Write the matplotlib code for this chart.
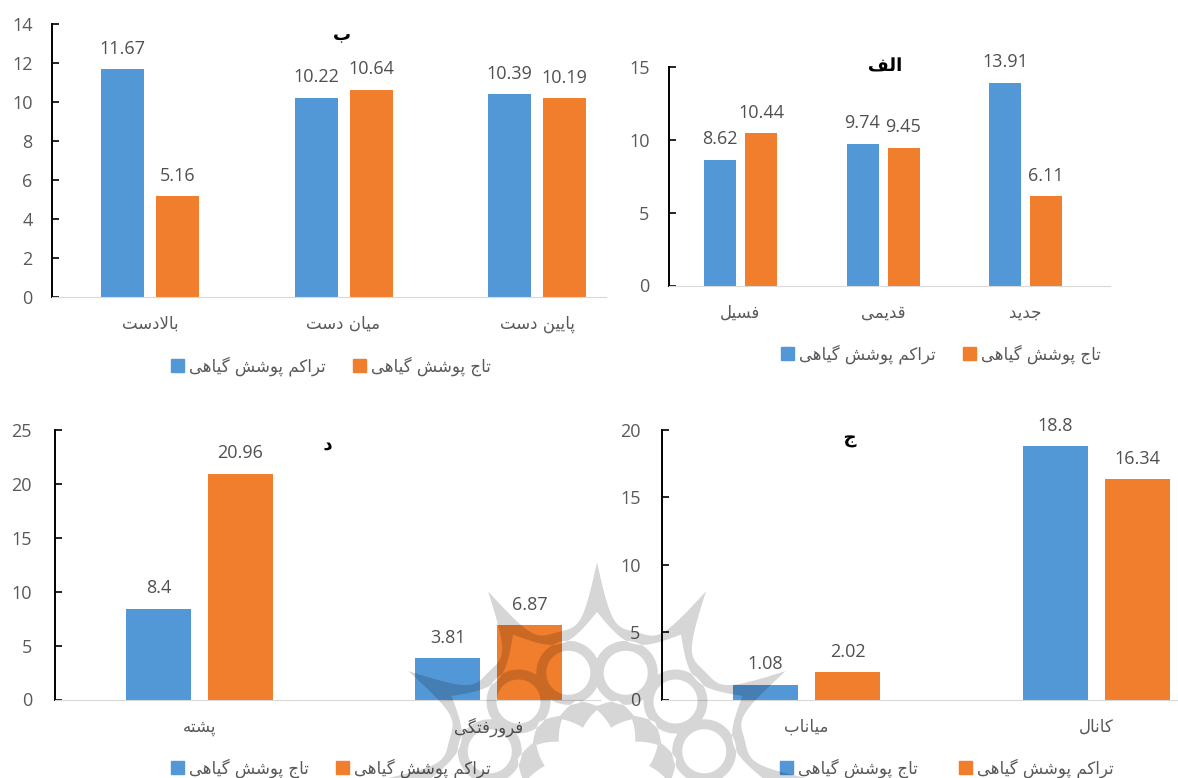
#Importing the required packages
import numpy as np
import matplotlib
matplotlib.use('Agg')
import matplotlib.pyplot as plt
import matplotlib.patheffects as pe
from matplotlib.patches import Patch, PathPatch
from matplotlib.path import Path

#Chart values, one group of lists for every panel
cats_b = ['بالادست', 'میان دست', 'پایین دست']
blue_b = [11.67, 10.22, 10.39]
orange_b = [5.16, 10.64, 10.19]

cats_a = ['فسیل', 'قدیمی', 'جدید']
blue_a = [8.62, 9.74, 13.91]
orange_a = [10.44, 9.45, 6.11]

cats_d = ['پشته', 'فرورفتگی']
blue_d = [8.4, 3.81]
orange_d = [20.96, 6.87]

cats_c = ['میاناب', 'کانال']
blue_c = [1.08, 18.8]
orange_c = [2.02, 16.34]

ticks_b = [0, 2, 4, 6, 8, 10, 12, 14]
ticks_a = [0, 5, 10, 15]
ticks_d = [0, 5, 10, 15, 20, 25]
ticks_c = [0, 5, 10, 15, 20]

taj = 'تاج پوشش گیاهی'
tarakom = 'تراکم پوشش گیاهی'

W, H = 1178, 778
BLUE = '#5297d6'
ORANGE = '#f07e2c'
GREY = '#595959'

#matplotlib does not join arabic letters so the joined forms are picked by hand
FORMS = {
    'ا': '\ufe8d\ufe8e', 'د': '\ufea9\ufeaa', 'ر': '\ufead\ufeae', 'و': '\ufeed\ufeee',
    'ب': '\ufe8f\ufe90\ufe91\ufe92', 'پ': '\ufb56\ufb57\ufb58\ufb59', 'ت': '\ufe95\ufe96\ufe97\ufe98',
    'ج': '\ufe9d\ufe9e\ufe9f\ufea0', 'س': '\ufeb1\ufeb2\ufeb3\ufeb4', 'ش': '\ufeb5\ufeb6\ufeb7\ufeb8',
    'ف': '\ufed1\ufed2\ufed3\ufed4', 'ق': '\ufed5\ufed6\ufed7\ufed8', 'ک': '\ufb8e\ufb8f\ufb90\ufb91',
    'گ': '\ufb92\ufb93\ufb94\ufb95', 'ل': '\ufedd\ufede\ufedf\ufee0', 'م': '\ufee1\ufee2\ufee3\ufee4',
    'ن': '\ufee5\ufee6\ufee7\ufee8', 'ه': '\ufee9\ufeea\ufeeb\ufeec', 'ی': '\ufbfc\ufbfd\ufbfe\ufbff',
}

def shape(text):
    text = text.replace('لا', '\ufefb')
    out = []
    for i, ch in enumerate(text):
        prev = text[i - 1] if i > 0 else ' '
        nxt = text[i + 1] if i < len(text) - 1 else ' '
        if ch == '\ufefb':
            out.append('\ufefc' if len(FORMS.get(prev, '')) == 4 else ch)
            continue
        if ch not in FORMS:
            out.append(ch)
            continue
        forms = FORMS[ch]
        join_prev = len(FORMS.get(prev, '')) == 4
        join_next = len(forms) == 4 and (nxt in FORMS or nxt == '\ufefb')
        if join_prev and join_next:
            out.append(forms[3])
        elif join_prev:
            out.append(forms[1])
        elif join_next:
            out.append(forms[2])
        else:
            out.append(forms[0])
    return ''.join(reversed(out))

plt.rcParams['font.family'] = ['Open Sans', 'DejaVu Sans']
fig = plt.figure(figsize=(W / 100, H / 100), dpi=100)

def panel(cats, blue, orange, ticks, left, right, top, bottom, c0, c1, bar, gap,
          title, title_xy, legend_labels, legend_xy, ypad, colgap):
    ax = fig.add_axes([left / W, 1 - bottom / H, (right - left) / W, (bottom - top) / H])
    ax.patch.set_alpha(0)
    step = (c1 - c0)
    x = np.arange(len(cats))
    width = bar / step
    offset = (bar + gap) / 2 / step
    b1 = ax.bar(x - offset, blue, width, color=BLUE)
    b2 = ax.bar(x + offset, orange, width, color=ORANGE)
    for bars, vals in ((b1, blue), (b2, orange)):
        for rect, v in zip(bars, vals):
            ax.annotate(str(v), (rect.get_x() + rect.get_width() / 2, v), xytext=(0, 14.8),
                        textcoords='offset points', ha='center', va='center',
                        fontsize=13, color='#505050')
    ax.set_xlim((left - c0) / step, (right - c0) / step)
    ax.set_ylim(0, ticks[-1])
    ax.set_yticks(ticks)
    ax.set_xticks(x)
    ax.set_xticklabels([shape(c) for c in cats], family='DejaVu Sans', fontsize=12, color=GREY)
    ax.tick_params(axis='x', length=0, pad=13)
    ax.tick_params(axis='y', direction='in', length=5, width=1.2, pad=ypad, labelsize=13, labelcolor=GREY)
    ax.spines['top'].set_visible(False)
    ax.spines['right'].set_visible(False)
    ax.spines['left'].set_linewidth(1.4)
    ax.spines['bottom'].set_color('#d9d9d9')
    #the bitmap route cut the dots under the bold letters, path effects draw them as outlines
    fig.text(title_xy[0] / W, 1 - title_xy[1] / H, shape(title), family='DejaVu Sans',
             fontweight='bold', fontsize=13, color='black', ha='center', va='baseline', zorder=30,
             path_effects=[pe.Normal()])
    handles = [Patch(color=BLUE), Patch(color=ORANGE)]
    fig.legend(handles, [shape(t) for t in legend_labels], loc='center',
               bbox_to_anchor=(legend_xy[0] / W, 1 - legend_xy[1] / H), ncol=2, frameon=False,
               handlelength=0.78, handleheight=0.78, handletextpad=0.3, columnspacing=colgap,
               prop={'family': 'DejaVu Sans', 'size': 12}, labelcolor=GREY)
    return ax

panel(cats_b, blue_b, orange_b, ticks_b, 52, 606, 24, 297, 150, 343.5, 43, 12,
      'ب', (342, 40), [tarakom, taj], (331, 366), 14, 1.6)
panel(cats_a, blue_a, orange_a, ticks_a, 669, 1110, 67, 285.5, 740.5, 883, 32, 9,
      'الف', (885, 71), [tarakom, taj], (941, 354), 14, 1.6)
panel(cats_d, blue_d, orange_d, ticks_d, 55, 600, 430, 699.5, 199.5, 489, 65, 17,
      'د', (328, 450), [taj, tarakom], (331, 768), 16.5, 1.6)
panel(cats_c, blue_c, orange_c, ticks_c, 662, 1178, 430, 699.5, 806.5, 1096, 65, 17,
      'ج', (850, 443), [taj, tarakom], (947, 768), 15.5, 2.5)

#Watermark over the lower middle, built as one compound path so overlaps stay even
def ring_path(cx, cy, r_out, r_in):
    t = np.linspace(0, 2 * np.pi, 80)
    verts = np.vstack([np.c_[cx + r_out * np.cos(t), cy + r_out * np.sin(t)],
                       np.c_[cx + r_in * np.cos(t[::-1]), cy + r_in * np.sin(t[::-1])]])
    return verts

def closed(vlist):
    verts, codes = [], []
    for v in vlist:
        verts.append(v)
        c = np.full(len(v), Path.LINETO)
        c[0] = Path.MOVETO
        codes.append(c)
    return Path(np.vstack(verts), np.concatenate(codes))

cx, cy = 597, H - 780
theta = np.linspace(0, 2 * np.pi, 1441)
u = np.abs(((theta / (np.pi / 6)) % 1) * 2 - 1)

def star(r_out, r_in):
    return [np.c_[cx + r_out * np.sin(theta), cy + r_out * np.cos(theta)],
            np.c_[cx + r_in[::-1] * np.sin(theta[::-1]), cy + r_in[::-1] * np.cos(theta[::-1])]]

parts = star(153 + 65 * u ** 4, 141 + 27 * u ** 2)
parts += star(82 - 8 * u, 70 - 16 * (1 - u))
for k in range(12):
    a = np.pi / 12 + k * np.pi / 6
    parts.append(ring_path(cx + 111 * np.sin(a), cy + 111 * np.cos(a), 32, 22))
mark = PathPatch(closed(parts), transform=None, facecolor='black', edgecolor='none', alpha=0.16, zorder=20)
fig.add_artist(mark)

fig.savefig('out.png', dpi=100, facecolor='white')
